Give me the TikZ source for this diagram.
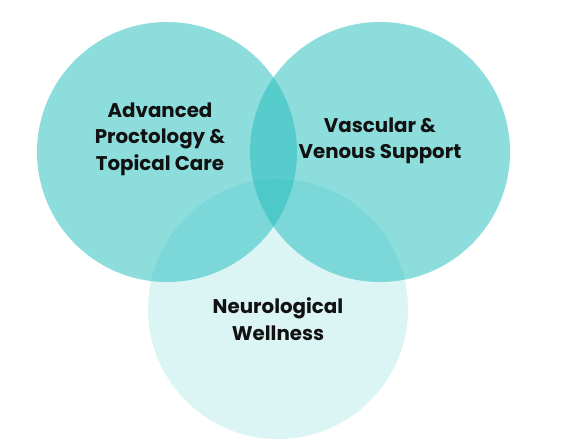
\documentclass[tikz,border=0pt]{standalone}
\usepackage{fontspec}
\setmainfont{Poppins}[BoldFont={Poppins Bold}]
\definecolor{teal}{RGB}{35,189,190}
\definecolor{ink}{RGB}{17,17,17}
\begin{document}
\begin{tikzpicture}[x=1pt,y=-1pt,
  bigcircle/.style={fill=teal,fill opacity=0.51,draw=none},
  faintcircle/.style={fill=teal,fill opacity=0.16,draw=none},
  label/.style={text=ink,align=center,font=\fontsize{19.8}{26.5}\selectfont\bfseries,inner sep=0pt}]
\useasboundingbox (0,0) rectangle (562,444);
\fill[white] (0,0) rectangle (562,444);
\path[bigcircle] (167,152) circle[radius=130];
\path[bigcircle] (380,152) circle[radius=130];
\path[faintcircle] (278,309) circle[radius=130];
\node[label] (proct) at (160,139) {Advanced\\Proctology \&\\Topical Care};
\node[label] (vasc) at (380,141) {Vascular \&\\Venous Support};
\node[label] (neuro) at (278,319) {Neurological\\Wellness};
\end{tikzpicture}
\end{document}
